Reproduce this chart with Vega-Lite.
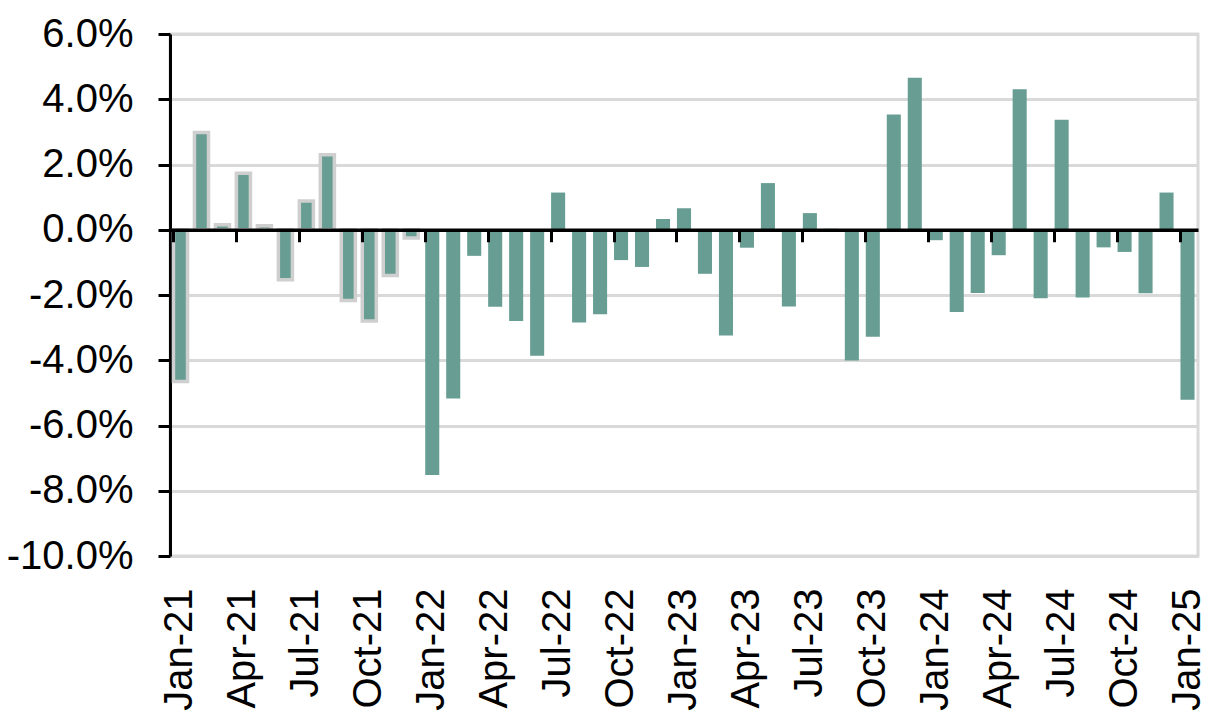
{
  "$schema": "https://vega.github.io/schema/vega-lite/v6.json",
  "width": 1028,
  "height": 522,
  "autosize": "none",
  "padding": {"left": 170, "top": 34, "right": 18, "bottom": 157},
  "background": "white",
  "config": {
    "view": {"stroke": "#d9d9d9", "strokeWidth": 3},
    "font": "Liberation Sans"
  },
  "data": {
    "values": [
      {"month": "Jan-21", "value": -4.65, "outlined": true},
      {"month": "Feb-21", "value": 2.98, "outlined": true},
      {"month": "Mar-21", "value": 0.15, "outlined": true},
      {"month": "Apr-21", "value": 1.73, "outlined": true},
      {"month": "May-21", "value": 0.12, "outlined": true},
      {"month": "Jun-21", "value": -1.53, "outlined": true},
      {"month": "Jul-21", "value": 0.88, "outlined": true},
      {"month": "Aug-21", "value": 2.30, "outlined": true},
      {"month": "Sep-21", "value": -2.17, "outlined": true},
      {"month": "Oct-21", "value": -2.80, "outlined": true},
      {"month": "Nov-21", "value": -1.40, "outlined": true},
      {"month": "Dec-21", "value": -0.25, "outlined": true},
      {"month": "Jan-22", "value": -7.52, "outlined": false},
      {"month": "Feb-22", "value": -5.17, "outlined": false},
      {"month": "Mar-22", "value": -0.80, "outlined": false},
      {"month": "Apr-22", "value": -2.36, "outlined": false},
      {"month": "May-22", "value": -2.80, "outlined": false},
      {"month": "Jun-22", "value": -3.86, "outlined": false},
      {"month": "Jul-22", "value": 1.14, "outlined": false},
      {"month": "Aug-22", "value": -2.84, "outlined": false},
      {"month": "Sep-22", "value": -2.59, "outlined": false},
      {"month": "Oct-22", "value": -0.93, "outlined": false},
      {"month": "Nov-22", "value": -1.14, "outlined": false},
      {"month": "Dec-22", "value": 0.33, "outlined": false},
      {"month": "Jan-23", "value": 0.66, "outlined": false},
      {"month": "Feb-23", "value": -1.35, "outlined": false},
      {"month": "Mar-23", "value": -3.24, "outlined": false},
      {"month": "Apr-23", "value": -0.55, "outlined": false},
      {"month": "May-23", "value": 1.43, "outlined": false},
      {"month": "Jun-23", "value": -2.35, "outlined": false},
      {"month": "Jul-23", "value": 0.51, "outlined": false},
      {"month": "Aug-23", "value": 0.03, "outlined": false},
      {"month": "Sep-23", "value": -4.01, "outlined": false},
      {"month": "Oct-23", "value": -3.28, "outlined": false},
      {"month": "Nov-23", "value": 3.53, "outlined": false},
      {"month": "Dec-23", "value": 4.66, "outlined": false},
      {"month": "Jan-24", "value": -0.32, "outlined": false},
      {"month": "Feb-24", "value": -2.52, "outlined": false},
      {"month": "Mar-24", "value": -1.94, "outlined": false},
      {"month": "Apr-24", "value": -0.78, "outlined": false},
      {"month": "May-24", "value": 4.31, "outlined": false},
      {"month": "Jun-24", "value": -2.10, "outlined": false},
      {"month": "Jul-24", "value": 3.37, "outlined": false},
      {"month": "Aug-24", "value": -2.08, "outlined": false},
      {"month": "Sep-24", "value": -0.54, "outlined": false},
      {"month": "Oct-24", "value": -0.68, "outlined": false},
      {"month": "Nov-24", "value": -1.95, "outlined": false},
      {"month": "Dec-24", "value": 1.14, "outlined": false},
      {"month": "Jan-25", "value": -5.21, "outlined": false}
    ]
  },
  "resolve": {"axis": {"x": "independent"}},
  "layer": [
    {
      "mark": {"type": "bar", "fill": "#679d92", "strokeWidth": 3.5},
      "encoding": {
        "x": {
          "field": "month",
          "type": "ordinal",
          "sort": null,
          "scale": {"paddingInner": 0.33, "paddingOuter": 0.165},
          "axis": {
            "orient": "bottom",
            "title": null,
            "values": ["Jan-21", "Apr-21", "Jul-21", "Oct-21", "Jan-22", "Apr-22", "Jul-22", "Oct-22", "Jan-23", "Apr-23", "Jul-23", "Oct-23", "Jan-24", "Apr-24", "Jul-24", "Oct-24", "Jan-25"],
            "domain": false,
            "ticks": false,
            "grid": false,
            "labelAngle": 270,
            "labelAlign": "right",
            "labelBaseline": "middle",
            "labelPadding": 32,
            "labelFont": "Liberation Sans",
            "labelFontSize": 40,
            "labelColor": "#000000"
          }
        },
        "y": {
          "field": "value",
          "type": "quantitative",
          "scale": {"domain": [-10, 6], "nice": false, "zero": true},
          "axis": {
            "title": null,
            "values": [-10, -8, -6, -4, -2, 0, 2, 4, 6],
            "labelExpr": "replace(format(datum.value, '.1f'), '\u2212', '-') + '%'",
            "grid": true,
            "gridColor": "#d9d9d9",
            "gridWidth": 3,
            "domainColor": "#000000",
            "domainWidth": 3,
            "tickColor": "#000000",
            "tickWidth": 3,
            "tickSize": 12,
            "labelPadding": 25,
            "labelFont": "Liberation Sans",
            "labelFontSize": 40,
            "labelColor": "#000000"
          }
        },
        "stroke": {
          "condition": {"test": "datum.outlined", "value": "#cfcfcf"},
          "value": "transparent"
        }
      }
    },
    {
      "mark": {"type": "bar", "opacity": 0},
      "encoding": {
        "x": {
          "field": "month",
          "type": "ordinal",
          "sort": null,
          "axis": {
            "orient": "bottom",
            "offset": -326.25,
            "title": null,
            "values": ["Jan-21", "Apr-21", "Jul-21", "Oct-21", "Jan-22", "Apr-22", "Jul-22", "Oct-22", "Jan-23", "Apr-23", "Jul-23", "Oct-23", "Jan-24", "Apr-24", "Jul-24", "Oct-24", "Jan-25"],
            "bandPosition": 0,
            "labels": false,
            "grid": false,
            "domain": true,
            "domainColor": "#000000",
            "domainWidth": 3.5,
            "ticks": true,
            "tickColor": "#000000",
            "tickWidth": 3,
            "tickSize": 12,
            "zindex": 1
          }
        },
        "y": {
          "field": "value",
          "type": "quantitative"
        }
      }
    }
  ]
}
